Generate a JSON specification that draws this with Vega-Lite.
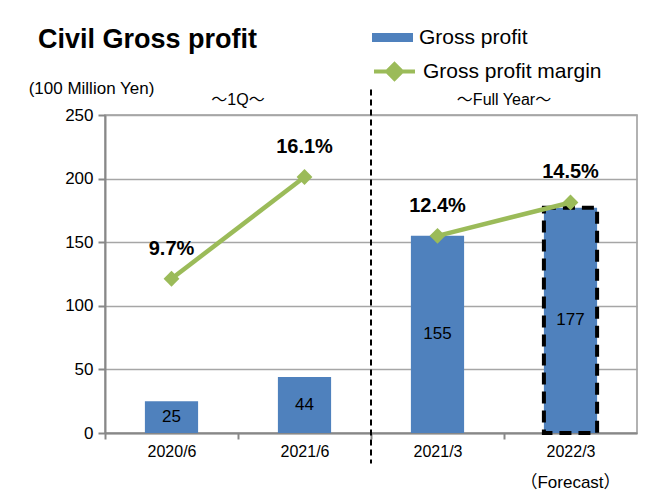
{
  "$schema": "https://vega.github.io/schema/vega-lite/v6.json",
  "width": 532,
  "height": 318,
  "autosize": {"type": "none"},
  "padding": {"left": 105, "top": 115, "right": 16, "bottom": 68},
  "background": "white",
  "config": {
    "font": "Liberation Sans, Noto Sans CJK JP",
    "view": {"stroke": "#999999", "strokeWidth": 1.5},
    "axis": {"domainColor": "#888888", "domainWidth": 2, "tickColor": "#888888", "tickWidth": 2, "gridColor": "#A6A6A6", "gridWidth": 1.5, "labelColor": "black", "labelFont": "Liberation Sans"}
  },
  "title": {
    "text": "Civil Gross profit",
    "fontSize": 27,
    "fontWeight": "bold",
    "font": "Liberation Sans",
    "color": "black",
    "anchor": "start",
    "frame": "group",
    "dx": -67,
    "dy": 45,
    "offset": 8
  },
  "data": {
    "values": [
      {"period": "2020/6", "group": "1Q", "gross": 25, "margin": 0.097, "forecast": false},
      {"period": "2021/6", "group": "1Q", "gross": 44, "margin": 0.161, "forecast": false},
      {"period": "2021/3", "group": "FY", "gross": 155, "margin": 0.124, "forecast": false},
      {"period": "2022/3", "group": "FY", "gross": 177, "margin": 0.145, "forecast": true}
    ]
  },
  "layer": [
    {
      "mark": {"type": "bar"},
      "encoding": {
        "x": {
          "field": "period", "type": "nominal", "sort": null,
          "scale": {"domain": ["2020/6", "2021/6", "2021/3", "2022/3"], "paddingInner": 0.6, "paddingOuter": 0.3},
          "axis": {"title": null, "labelAngle": 0, "labelFontSize": 16, "tickOffset": -66.5, "labelOffset": 66.5, "tickSize": 6, "labelPadding": 4, "grid": false}
        },
        "y": {
          "field": "gross", "type": "quantitative",
          "scale": {"domain": [0, 250], "nice": false},
          "axis": {
            "values": [0, 50, 100, 150, 200, 250], "labelFontSize": 17, "tickSize": 7, "labelPadding": 5,
            "title": "(100 Million Yen)", "titleAngle": 0, "titleFontSize": 17, "titleFontWeight": "normal", "titleColor": "black", "titleFont": "Liberation Sans",
            "titleAlign": "center", "titleBaseline": "middle", "titleX": -14, "titleY": -27
          }
        },
        "fill": {
          "datum": "Gross profit", "type": "nominal",
          "scale": {"range": ["#4F81BD"]},
          "legend": {
            "orient": "none", "legendX": 267, "legendY": -98, "title": null, "padding": 0,
            "symbolType": "M-1,-0.22H1V0.22H-1Z", "symbolSize": 1681, "symbolStrokeWidth": 0,
            "labelFontSize": 21, "labelColor": "black", "labelOffset": 6, "labelFont": "Liberation Sans", "labelLimit": 400
          }
        }
      }
    },
    {
      "transform": [{"filter": "datum.forecast"}],
      "mark": {"type": "bar", "fill": null, "fillOpacity": 0, "stroke": "black", "strokeWidth": 4, "strokeDash": [12, 7]},
      "encoding": {
        "x": {"field": "period", "type": "nominal", "sort": null},
        "y": {"field": "gross", "type": "quantitative", "scale": {"domain": [0, 250], "nice": false}, "axis": null}
      }
    },
    {
      "mark": {"type": "text", "fontSize": 17, "color": "black", "baseline": "middle"},
      "encoding": {
        "x": {"field": "period", "type": "nominal", "sort": null},
        "y": {"field": "gross", "type": "quantitative", "scale": {"domain": [0, 500], "nice": false}, "axis": null},
        "text": {"field": "gross", "type": "quantitative"}
      }
    },
    {
      "mark": {"type": "line", "strokeWidth": 4.5},
      "encoding": {
        "x": {"field": "period", "type": "nominal", "sort": null},
        "y": {"field": "margin", "type": "quantitative", "scale": {"domain": [0, 0.2], "nice": false}, "axis": null},
        "detail": {"field": "group"},
        "stroke": {
          "datum": "Gross profit margin", "type": "nominal",
          "scale": {"range": ["#9BBB59"]},
          "legend": {
            "orient": "none", "legendX": 267, "legendY": -66, "title": null, "padding": 0,
            "symbolType": "M-1,0H1M0,-0.36L0.36,0L0,0.36L-0.36,0Z", "symbolSize": 1681, "symbolStrokeWidth": 4,
            "symbolFillColor": "#9BBB59",
            "labelFontSize": 21, "labelColor": "black", "labelOffset": 6, "labelFont": "Liberation Sans", "labelLimit": 400,
            "encode": {"symbols": {"update": {"fill": {"value": "#9BBB59"}}}}
          }
        }
      }
    },
    {
      "mark": {"type": "point", "shape": "diamond", "filled": true, "size": 250, "color": "#9BBB59", "opacity": 1},
      "encoding": {
        "x": {"field": "period", "type": "nominal", "sort": null},
        "y": {"field": "margin", "type": "quantitative", "scale": {"domain": [0, 0.2], "nice": false}, "axis": null}
      }
    },
    {
      "mark": {"type": "text", "fontSize": 20, "fontWeight": "bold", "color": "black", "dy": -30, "baseline": "middle"},
      "encoding": {
        "x": {"field": "period", "type": "nominal", "sort": null},
        "y": {"field": "margin", "type": "quantitative", "scale": {"domain": [0, 0.2], "nice": false}, "axis": null},
        "text": {"field": "margin", "type": "quantitative", "format": ".1%"}
      }
    },
    {
      "data": {"values": [{"at": "2021/3"}]},
      "mark": {"type": "rule", "color": "black", "strokeWidth": 2, "strokeDash": [6, 4]},
      "encoding": {
        "x": {"field": "at", "type": "nominal", "bandPosition": -0.75},
        "y": {"datum": 270, "type": "quantitative", "scale": {"domain": [0, 250], "nice": false}, "axis": null},
        "y2": {"datum": -24}
      }
    },
    {
      "data": {"values": [{"at": "2021/6", "label": "～1Q～"}, {"at": "2022/3", "label": "～Full Year～"}]},
      "mark": {"type": "text", "fontSize": 16, "color": "black", "baseline": "middle", "font": "Liberation Sans, Noto Sans CJK JP"},
      "encoding": {
        "x": {"field": "at", "type": "nominal", "bandPosition": -0.75},
        "y": {"datum": 262, "type": "quantitative", "scale": {"domain": [0, 250], "nice": false}, "axis": null},
        "text": {"field": "label"}
      }
    },
    {
      "data": {"values": [{"at": "2022/3", "label": "（Forecast）"}]},
      "mark": {"type": "text", "fontSize": 17, "color": "black", "baseline": "middle", "font": "Liberation Sans, Noto Sans CJK JP"},
      "encoding": {
        "x": {"field": "at", "type": "nominal"},
        "y": {"datum": -39, "type": "quantitative", "scale": {"domain": [0, 250], "nice": false}, "axis": null},
        "text": {"field": "label"}
      }
    }
  ],
  "resolve": {"scale": {"y": "independent"}}
}
